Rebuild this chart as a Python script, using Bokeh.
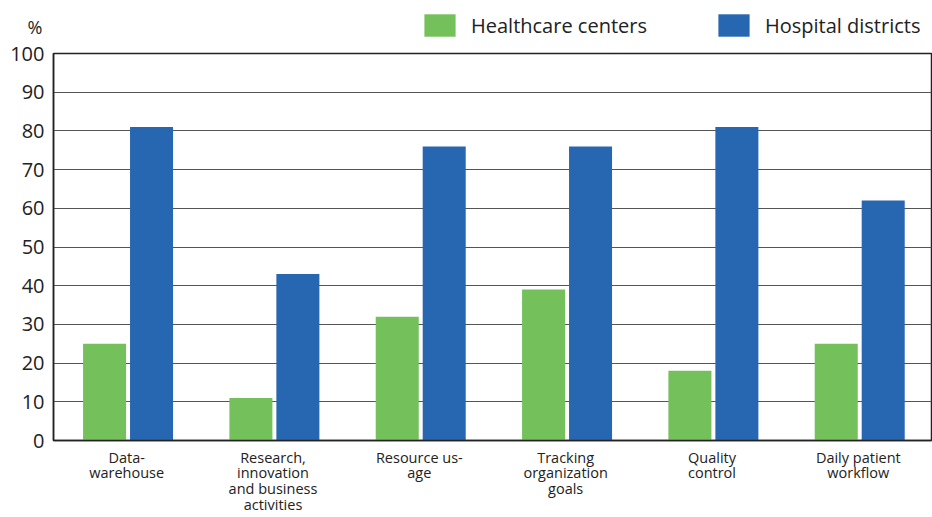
from bokeh.plotting import figure
from bokeh.layouts import column
from bokeh.models import ColumnDataSource, FactorRange, Legend, LegendItem, FixedTicker, Range1d
from bokeh.transform import dodge
from bokeh.embed import file_html
from bokeh.resources import INLINE

categories = ["Data-\nwarehouse", "Research,\ninnovation\nand business\nactivities", "Resource us-\nage",
              "Tracking\norganization\ngoals", "Quality\ncontrol", "Daily patient\nworkflow"]
healthcare = [25, 11, 32, 39, 18, 25]
hospital = [81, 43, 76, 76, 81, 62]
y_ticks = [0, 10, 20, 30, 40, 50, 60, 70, 80, 90, 100]
series_names = ["Healthcare centers", "Hospital districts"]
unit_label = "%"

GREEN = "#74C15B"
BLUE = "#2767B1"
TEXT = "#222222"
FONT = "Open Sans"

HEADER_H = 41

# ---- header strip: unit label (as a lone axis label) and legend ----
top = figure(width=932, height=HEADER_H, output_backend="svg", toolbar_location=None,
             x_range=Range1d(0, 1), y_range=Range1d(0, HEADER_H),
             x_axis_type=None,
             min_border_left=53, min_border_right=1, min_border_top=0, min_border_bottom=0)
top.outline_line_color = None
top.xgrid.visible = False
top.ygrid.visible = False
top.yaxis.ticker = FixedTicker(ticks=[15])
top.yaxis.major_label_overrides = {15: unit_label}
top.yaxis.axis_line_color = None
top.yaxis.major_tick_line_color = None
top.yaxis.minor_tick_line_color = None
top.yaxis.major_tick_out = 0
top.yaxis.major_tick_in = 0
top.yaxis.major_label_standoff = 11
top.yaxis.major_label_text_font = FONT
top.yaxis.major_label_text_font_size = "18px"
top.yaxis.major_label_text_color = TEXT

# zero-height proxy bars so the legend has glyphs to draw
proxy = ColumnDataSource(data=dict(x=[0.5], y=[0]))
d1 = top.vbar(x="x", top="y", width=0.1, source=proxy, fill_color=GREEN, line_color=None)
d2 = top.vbar(x="x", top="y", width=0.1, source=proxy, fill_color=BLUE, line_color=None)

legend = Legend(items=[LegendItem(label=series_names[0], renderers=[d1]),
                       LegendItem(label=series_names[1], renderers=[d2])],
                orientation="horizontal", location=(367, 2),
                glyph_width=39, glyph_height=28, label_text_font=FONT,
                label_text_font_size="20px", label_text_color=TEXT,
                spacing=67, padding=0, margin=0, label_standoff=12,
                border_line_color=None, background_fill_alpha=0)
top.add_layout(legend, "center")

# ---- main chart ----
src = ColumnDataSource(data=dict(cat=categories, hc=healthcare, hd=hospital))

p = figure(x_range=FactorRange(factors=categories), y_range=(0, 100),
           width=932, height=517 - HEADER_H, output_backend="svg", toolbar_location=None,
           min_border_left=53, min_border_right=1, min_border_top=12, min_border_bottom=77)

p.vbar(x=dodge("cat", -0.151, range=p.x_range), top="hc", width=0.294, source=src,
       fill_color=GREEN, line_color=None)
p.vbar(x=dodge("cat", 0.170, range=p.x_range), top="hd", width=0.294, source=src,
       fill_color=BLUE, line_color=None)

p.outline_line_color = TEXT
p.outline_line_width = 1.5

p.xgrid.grid_line_color = None
p.ygrid.grid_line_color = "#555555"
p.ygrid.grid_line_width = 1.2
p.ygrid.level = "underlay"

p.yaxis.ticker = FixedTicker(ticks=y_ticks)
p.yaxis.axis_line_color = TEXT
p.yaxis.axis_line_width = 1.5
p.yaxis.major_tick_line_color = None
p.yaxis.minor_tick_line_color = None
p.yaxis.major_tick_out = 0
p.yaxis.major_tick_in = 0
p.yaxis.major_label_standoff = 9
p.yaxis.major_label_text_font = FONT
p.yaxis.major_label_text_font_size = "20px"
p.yaxis.major_label_text_color = TEXT

p.xaxis.axis_line_color = TEXT
p.xaxis.axis_line_width = 1.5
p.xaxis.major_tick_line_color = None
p.xaxis.major_tick_out = 0
p.xaxis.major_tick_in = 0
p.xaxis.major_label_standoff = 7
p.xaxis.major_label_text_font = FONT
p.xaxis.major_label_text_font_size = "14.5px"
p.xaxis.major_label_text_color = TEXT
p.xaxis.major_label_text_line_height = 0.84

layout = column(top, p, spacing=0)
open("out.html", "w").write(file_html(layout, INLINE))
